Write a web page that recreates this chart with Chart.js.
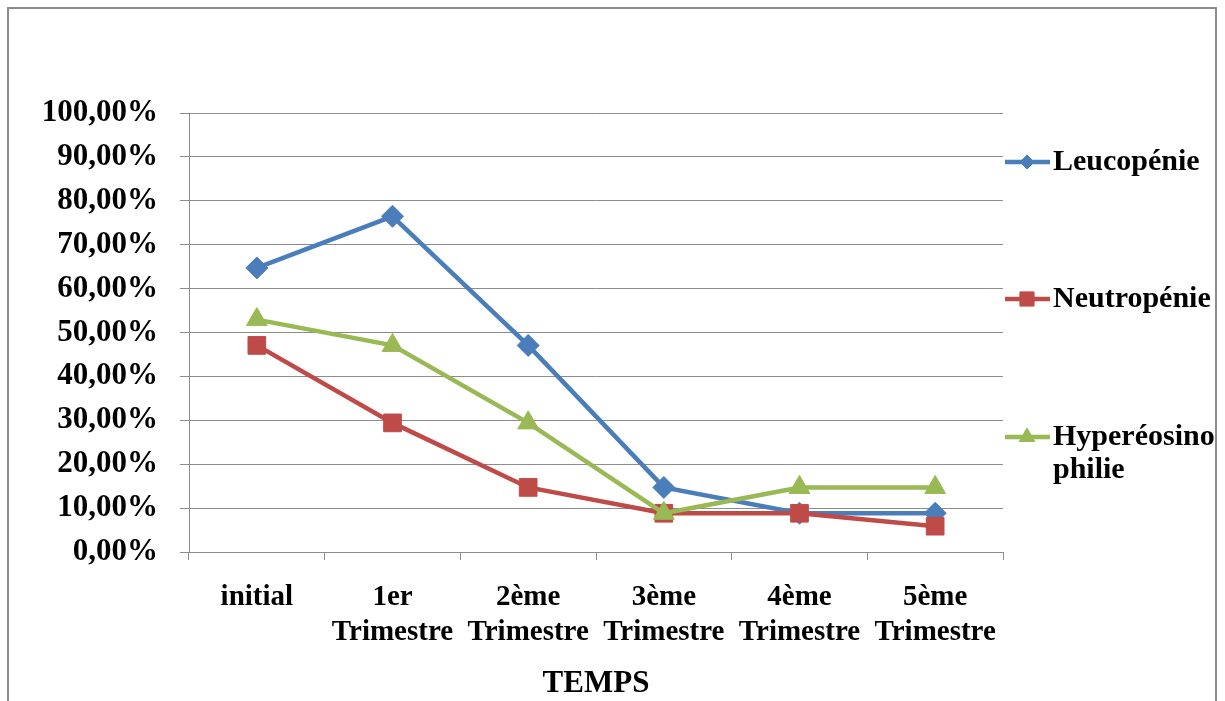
<!DOCTYPE html>
<html>
<head>
<meta charset="utf-8">
<script src="https://cdn.jsdelivr.net/npm/chart.js@4/dist/chart.umd.min.js"></script>
<style>
  html, body { margin: 0; padding: 0; background: #fff; overflow: hidden; }
  #wrap { position: relative; width: 1225px; height: 701px; }
  #frame { position: absolute; left: 7px; top: 7px; width: 1206px; height: 760px; border: 2px solid #8c8c8c; pointer-events: none; }
  canvas { position: absolute; left: 0; top: 0; }
</style>
</head>
<body>
<div id="wrap">
  <canvas id="chart" width="1225" height="701"></canvas>
  <div id="frame"></div>
</div>
<script>
// categories (multi-line labels) and series values, in %
const categories = [
  ['initial'],
  ['1er', 'Trimestre'],
  ['2ème', 'Trimestre'],
  ['3ème', 'Trimestre'],
  ['4ème', 'Trimestre'],
  ['5ème', 'Trimestre']
];
const leucopenie = [64.71, 76.47, 47.06, 14.71, 8.82, 8.82];
const neutropenie = [47.06, 29.41, 14.71, 8.82, 8.82, 5.88];
const hypereosinophilie = [52.94, 47.06, 29.41, 8.82, 14.71, 14.71];
const seriesNames = ['Leucopénie', 'Neutropénie', 'Hyperéosinophilie'];
const legendLines = [['Leucopénie'], ['Neutropénie'], ['Hyperéosino', 'philie']];
const yTicks = [0, 10, 20, 30, 40, 50, 60, 70, 80, 90, 100];
const xTitle = 'TEMPS';

const SERIF = '"Liberation Serif", "Times New Roman", serif';
const GRID = '#8c8c8c';

// legend drawn at the right, Excel style
const sideLegend = {
  id: 'sideLegend',
  afterDraw(chart) {
    const ctx = chart.ctx;
    const rows = [162, 299, 437];
    const markerSize = [7, 10, 9];
    chart.data.datasets.forEach((ds, i) => {
      const y = rows[i];
      ctx.save();
      ctx.strokeStyle = ds.borderColor;
      ctx.lineWidth = 4.5;
      ctx.beginPath();
      ctx.moveTo(1005, y);
      ctx.lineTo(1050, y);
      ctx.stroke();
      ctx.fillStyle = ds.borderColor;
      ctx.lineWidth = 1;
      Chart.helpers.drawPoint(ctx, {
        pointStyle: ds.pointStyle,
        radius: markerSize[i],
        borderWidth: 1,
        rotation: 0
      }, 1027, y);
      ctx.fillStyle = '#000';
      ctx.font = 'bold 30px ' + SERIF;
      ctx.textBaseline = 'middle';
      ctx.textAlign = 'left';
      legendLines[i].forEach((t, k) => ctx.fillText(t, 1053, y + k * 33));
      ctx.restore();
    });
  }
};

const ctx = document.getElementById('chart').getContext('2d');

new Chart(ctx, {
  type: 'line',
  data: {
    labels: categories,
    datasets: [
      {
        label: seriesNames[0],
        data: leucopenie,
        borderColor: '#4A7EBB',
        backgroundColor: '#4A7EBB',
        borderWidth: 4.5,
        pointStyle: 'rectRot',
        pointRadius: 11,
        pointBorderWidth: 1,
        order: 3
      },
      {
        label: seriesNames[1],
        data: neutropenie,
        borderColor: '#BE4B48',
        backgroundColor: '#BE4B48',
        borderWidth: 4.5,
        pointStyle: 'rect',
        pointRadius: 12.5,
        pointBorderWidth: 1,
        order: 2
      },
      {
        label: seriesNames[2],
        data: hypereosinophilie,
        borderColor: '#98B954',
        backgroundColor: '#98B954',
        borderWidth: 4.5,
        pointStyle: 'triangle',
        pointRadius: 12,
        pointBorderWidth: 1,
        order: 1
      }
    ]
  },
  options: {
    responsive: false,
    animation: false,
    layout: {
      padding: { left: 0, top: 113, right: 222, bottom: 0 }
    },
    scales: {
      x: {
        offset: true,
        grid: {
          offset: true,
          drawOnChartArea: false,
          drawTicks: true,
          tickLength: 8,
          color: GRID,
          lineWidth: 1
        },
        border: { display: true, color: GRID, width: 1 },
        ticks: {
          color: '#000',
          padding: 20,
          maxRotation: 0,
          autoSkip: false,
          font: { family: SERIF, size: 29, weight: 'bold', lineHeight: 1.2 }
        },
        title: {
          display: true,
          text: xTitle,
          color: '#000',
          padding: { top: 0, bottom: 1 },
          font: { family: SERIF, size: 31, weight: 'bold', lineHeight: 1.05 }
        },
        afterFit(scale) { scale.height = 149; }
      },
      y: {
        min: 0,
        max: 100,
        grid: {
          color: GRID,
          lineWidth: 1,
          drawTicks: true,
          tickLength: 9
        },
        border: { display: true, color: GRID, width: 1 },
        afterBuildTicks(scale) { scale.ticks = yTicks.map(v => ({ value: v })); },
        ticks: {
          color: '#000',
          padding: 22,
          font: { family: SERIF, size: 31, weight: 'bold' },
          callback: v => v.toFixed(2).replace('.', ',') + '%'
        },
        afterFit(scale) { scale.width = 189; }
      }
    },
    plugins: {
      legend: { display: false },
      tooltip: { enabled: false }
    }
  },
  plugins: [sideLegend]
});
</script>
</body>
</html>
